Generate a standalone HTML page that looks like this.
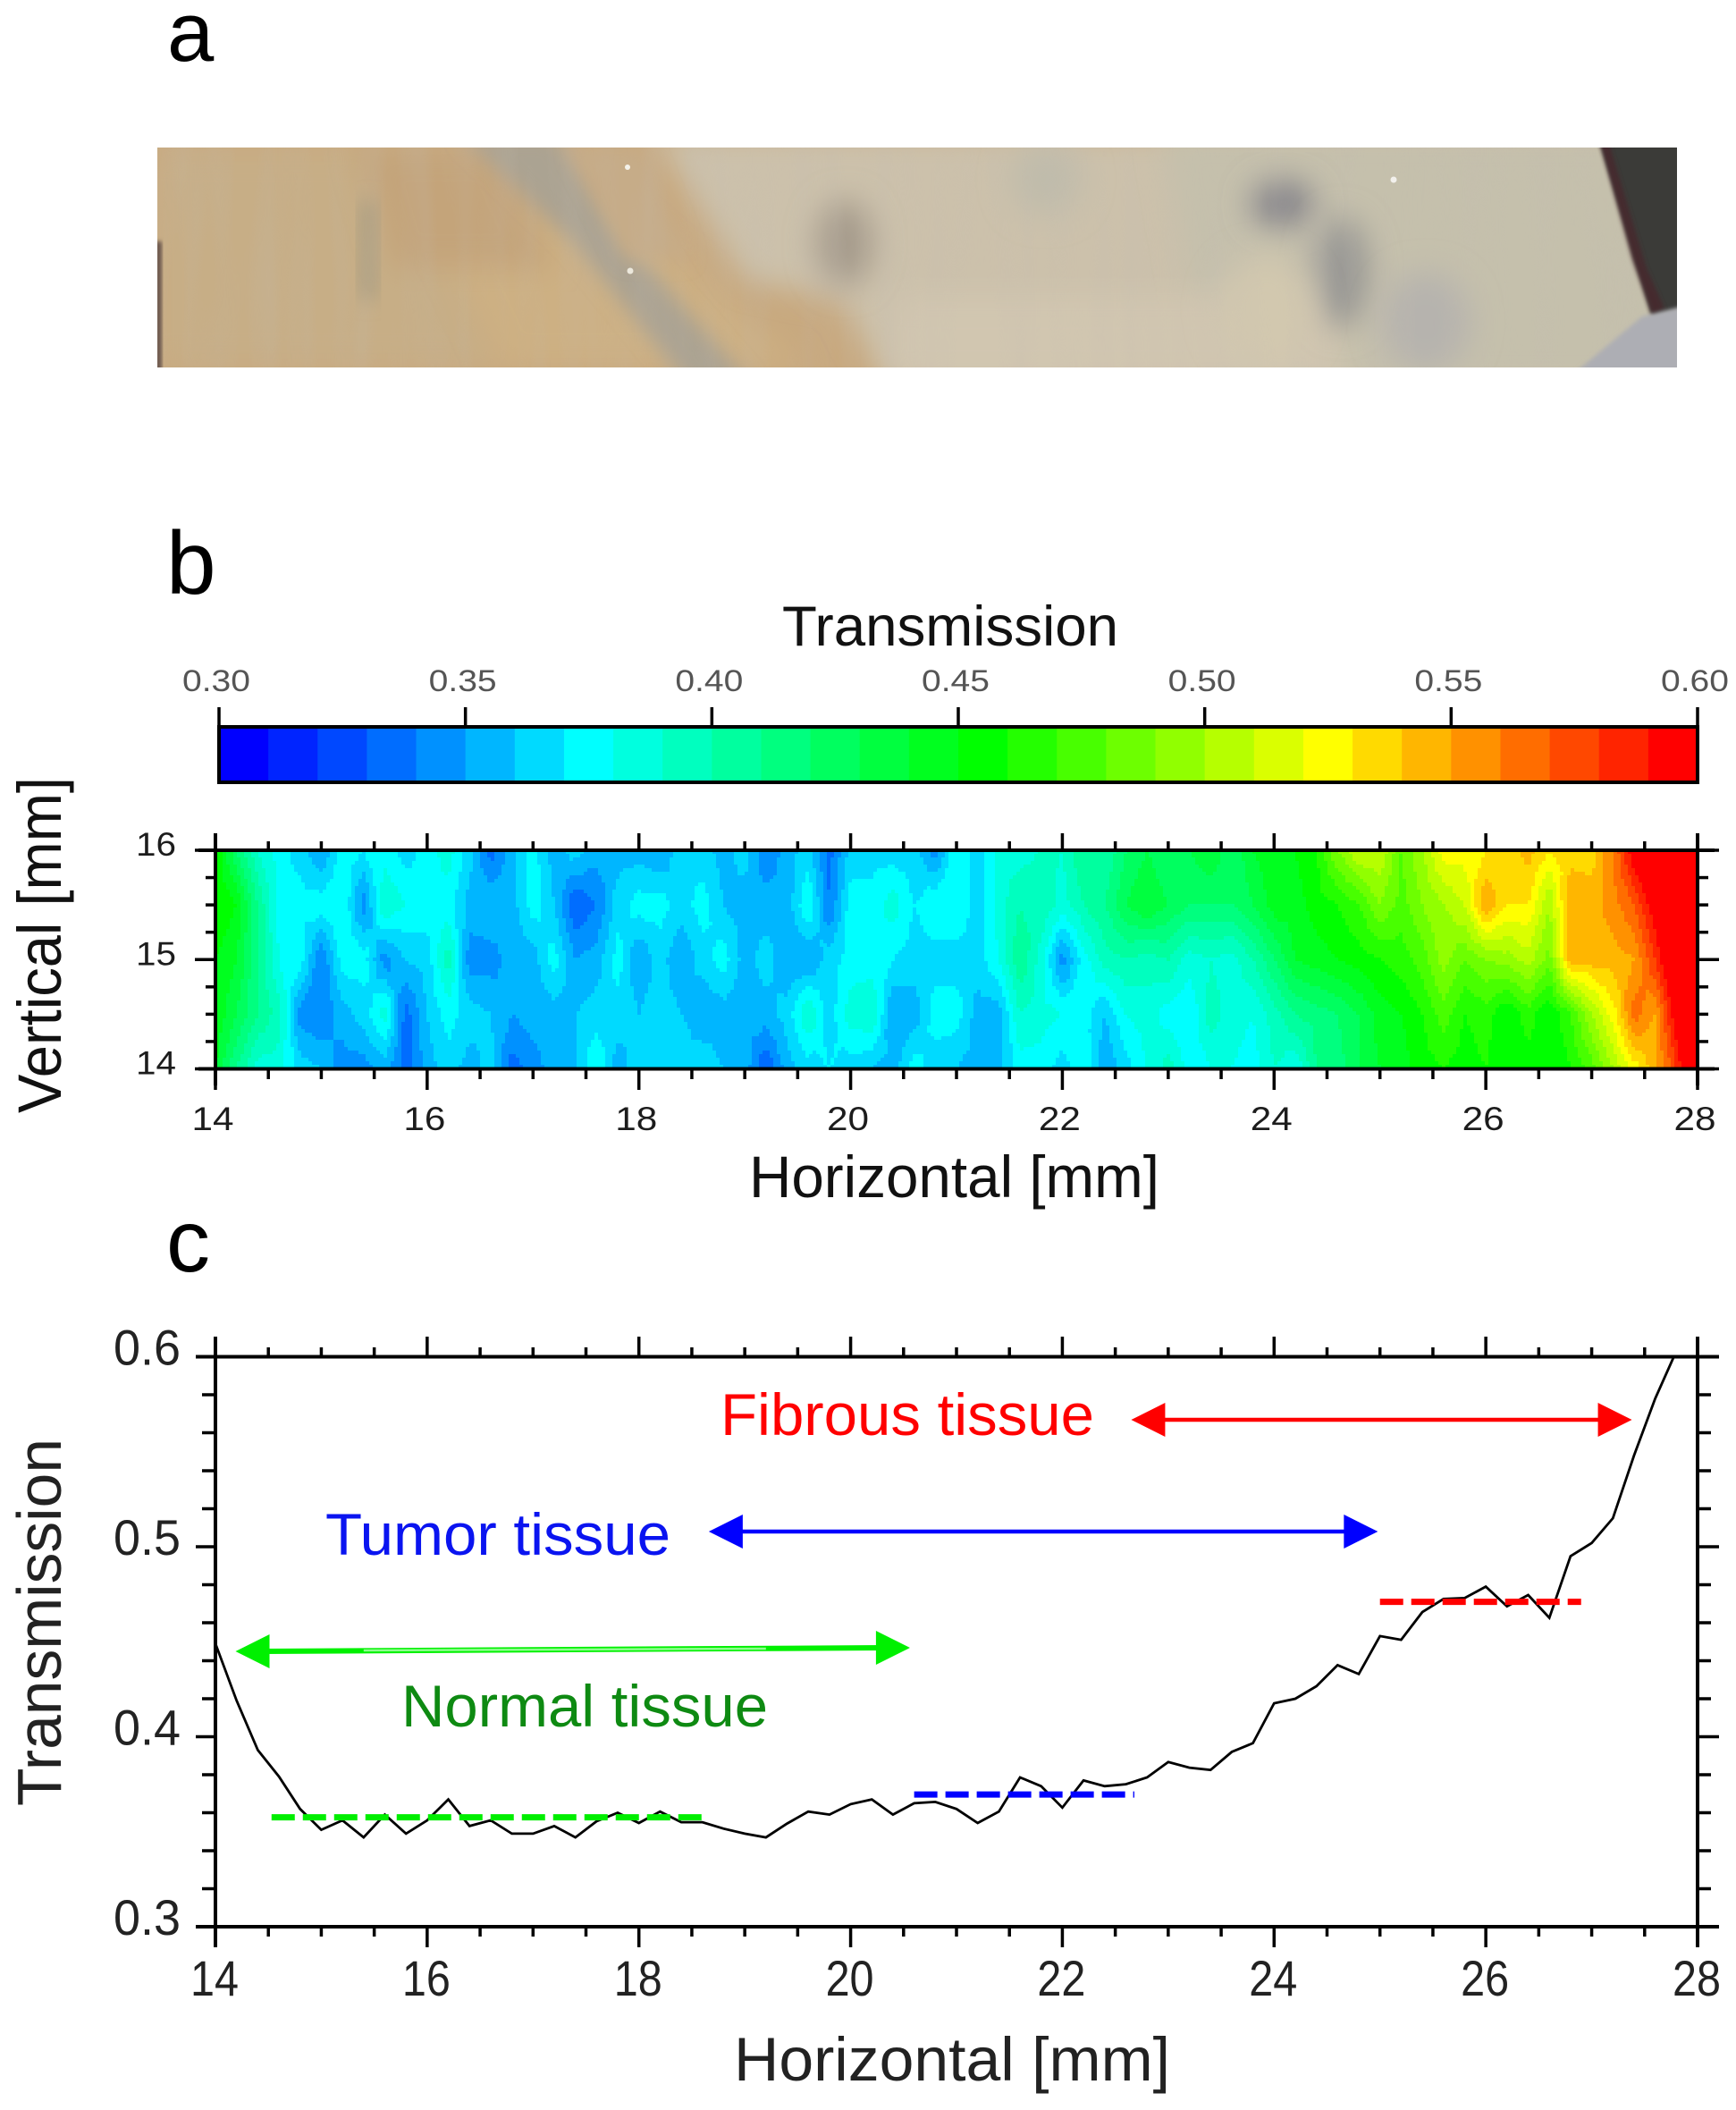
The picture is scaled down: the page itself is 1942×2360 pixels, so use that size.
<!DOCTYPE html>
<html lang="en">
<head>
<meta charset="utf-8">
<title>Tissue transmission figure</title>
<style>
html,body{margin:0;padding:0;background:#fff;}
svg{display:block;}
text{font-family:"Liberation Sans",Arial,sans-serif;}
</style>
</head>
<body>
<svg id="figure" xmlns="http://www.w3.org/2000/svg" width="1942" height="2360" viewBox="0 0 1942 2360">
  <defs>
    <clipPath id="photoClip"><rect x="176" y="165" width="1700" height="246"/></clipPath>
    <filter id="blurBig" x="-20%" y="-20%" width="140%" height="140%"><feGaussianBlur stdDeviation="16"/></filter>
    <filter id="blurMid" x="-40%" y="-40%" width="180%" height="180%"><feGaussianBlur stdDeviation="11"/></filter>
    <filter id="blurLow" x="-60%" y="-60%" width="220%" height="220%"><feGaussianBlur stdDeviation="17"/></filter>
    <filter id="blurSmall" x="-20%" y="-20%" width="140%" height="140%"><feGaussianBlur stdDeviation="2.5"/></filter>
    <filter id="streaks" x="0" y="0" width="100%" height="100%">
      <feTurbulence type="fractalNoise" baseFrequency="0.035 0.004" numOctaves="2" seed="7"/>
      <feColorMatrix type="matrix" values="0 0 0 0 0.55  0 0 0 0 0.5  0 0 0 0 0.45  1.6 0 0 0 -0.55"/>
    </filter>
    <clipPath id="heatClip"><rect x="241" y="951" width="1658" height="245"/></clipPath>
    <clipPath id="profileClip"><rect x="241" y="1517" width="1658" height="638"/></clipPath>
  </defs>

  <text x="187" y="68" font-size="94" fill="#000">a</text>
  <g clip-path="url(#photoClip)">
    <rect x="176" y="165" width="1700" height="246" fill="#c8a97f"/>
    <polygon filter="url(#blurBig)" fill="#c7ae86" points="176,165 500,165 560,411 176,411"/>
    <polygon filter="url(#blurBig)" fill="#cdb083" points="480,240 700,240 900,411 560,411"/>
    <polygon filter="url(#blurBig)" fill="#c4a47a" points="400,165 560,165 620,300 440,300"/>
    <polygon filter="url(#blurBig)" fill="#ccc1ab" points="731,150 1890,150 1890,430 991,430 940,335 833,313"/>
    <polygon filter="url(#blurBig)" fill="#c5c0ac" points="1300,150 1890,150 1890,430 1350,430"/>
    <polygon filter="url(#blurBig)" fill="#d1c6b0" points="1000,330 1500,330 1500,430 1000,430"/>
    <polygon filter="url(#blurMid)" fill="#aba392" points="515,150 620,150 700,270 840,430 770,430 640,270"/>
    <polygon filter="url(#blurMid)" fill="#c6ac88" points="640,165 720,165 770,290 700,290"/>
    <ellipse filter="url(#blurLow)" cx="945" cy="272" rx="32" ry="48" fill="#a69b8c"/>
    <ellipse filter="url(#blurLow)" cx="1435" cy="228" rx="36" ry="26" fill="#85848a"/>
    <ellipse filter="url(#blurLow)" cx="1500" cy="305" rx="32" ry="62" fill="#9a9995"/>
    <ellipse filter="url(#blurLow)" cx="1595" cy="360" rx="50" ry="55" fill="#b6b3ae"/>
    <ellipse filter="url(#blurLow)" cx="1415" cy="345" rx="55" ry="60" fill="#d2c8af"/>
    <ellipse filter="url(#blurLow)" cx="1170" cy="200" rx="40" ry="40" fill="#c0bcab"/>
    <rect filter="url(#blurMid)" x="404" y="225" width="16" height="110" fill="#a4987a"/>
    <rect x="176" y="165" width="1700" height="246" filter="url(#streaks)" opacity="0.22"/>
    <polygon filter="url(#blurSmall)" fill="#3a3a38" points="1790,160 1885,160 1885,346 1848,354 1830,290"/>
    <polygon filter="url(#blurSmall)" fill="#442a2e" points="1790,160 1800,160 1842,300 1862,345 1848,352 1826,290"/>
    <polygon filter="url(#blurSmall)" fill="#adaeb4" points="1758,420 1837,354 1885,342 1885,420"/>
    <rect filter="url(#blurSmall)" x="174" y="270" width="7" height="145" fill="#66534c"/>
    <circle cx="702" cy="187" r="3" fill="#f4f2ea"/>
    <circle cx="1559" cy="201" r="3.5" fill="#f2f0ec"/>
    <circle cx="705" cy="303" r="3.5" fill="#ece8dc"/>
  </g>

  <text x="186" y="664" font-size="100" fill="#000">b</text>
  <text x="875" y="722" font-size="63" textLength="376" lengthAdjust="spacingAndGlyphs" fill="#111">Transmission</text>
  <g id="colorbar"></g>
  <g id="heatmap" clip-path="url(#heatClip)" shape-rendering="crispEdges"></g>
  <g id="heatAxes"></g>
  <text x="838" y="1339" font-size="66" textLength="459" lengthAdjust="spacingAndGlyphs" fill="#111">Horizontal [mm]</text>
  <text transform="translate(68 1245) rotate(-90)" font-size="69" textLength="376" lengthAdjust="spacingAndGlyphs" fill="#111">Vertical [mm]</text>

  <text x="186" y="1422" font-size="98" fill="#000">c</text>
  <g id="profileAxes"></g>
  <g id="profileMarks" clip-path="url(#profileClip)"></g>
  <g id="annotations"></g>
  <text x="806" y="1605" font-size="66" textLength="418" lengthAdjust="spacingAndGlyphs" fill="#ff0000">Fibrous tissue</text>
  <text x="364" y="1739" font-size="66" textLength="386" lengthAdjust="spacingAndGlyphs" fill="#0a14f0">Tumor tissue</text>
  <text x="449" y="1931" font-size="66" textLength="410" lengthAdjust="spacingAndGlyphs" fill="#0e8a12">Normal tissue</text>
  <text x="821" y="2327" font-size="69" textLength="488" lengthAdjust="spacingAndGlyphs" fill="#222">Horizontal [mm]</text>
  <text transform="translate(68 2020) rotate(-90)" font-size="70" textLength="411" lengthAdjust="spacingAndGlyphs" fill="#222">Transmission</text>
</svg>

<script>
// ---- colour scale ----
const colorbarTickValues = [0.30, 0.35, 0.40, 0.45, 0.50, 0.55, 0.60];
const colorbarTickLabels = ['0.30', '0.35', '0.40', '0.45', '0.50', '0.55', '0.60'];
const levelColors = ['#0000ff','#0024ff','#0048ff','#006dff','#0091ff','#00b6ff','#00daff','#00ffff','#00ffdf','#00ffbf','#00ff9f','#00ff7f','#00ff5f','#00ff3f','#00ff1f','#00ff00','#24ff00','#48ff00','#6dff00','#91ff00','#b6ff00','#daff00','#ffff00','#ffda00','#ffb600','#ff9100','#ff6d00','#ff4800','#ff2400','#ff0000'];
const levelMin = 0.30;
const levelStep = 0.01;

// ---- heatmap data: one array per scan row, each column is 0.2 mm ----
const heatColumnStart = 14;
const heatColumnStep = 0.2;
const heatRowPositions = [16, 15.5, 15, 14.5, 14];
const heatRow160 = [.46,.42,.39,.375,.365,.35,.375,.37,.375,.365, .375,.385,.365,.335,.355,.375,.355,.365,.355,.355, .355,.35,.365,.365,.355,.365,.34,.355,.365,.335, .365,.365,.365,.365,.345,.38,.365,.385,.385,.39, .39,.41,.40,.42,.43,.42,.43,.44,.42,.44, .445,.45,.46,.49,.51,.51,.48,.50,.525,.525, .53,.53,.545,.53,.535,.535,.56,.60,.62,.66, .72];
const heatRow155 = [.46,.45,.41,.375,.375,.375,.38,.345,.39,.38, .375,.375,.355,.36,.355,.375,.36,.33,.34,.365, .375,.375,.365,.375,.36,.355,.355,.355,.38,.34, .375,.375,.385,.37,.38,.38,.365,.385,.40,.40, .385,.40,.41,.43,.44,.43,.42,.42,.42,.43, .445,.445,.455,.46,.47,.49,.475,.49,.50,.51, .55,.53,.53,.50,.55,.545,.555,.57,.60,.64, .70];
const heatRow150 = [.45,.44,.41,.38,.375,.34,.375,.375,.345,.36, .365,.395,.345,.345,.355,.355,.375,.35,.355,.375, .35,.365,.35,.365,.375,.355,.365,.35,.35,.365, .375,.375,.37,.365,.365,.365,.365,.38,.41,.385, .345,.375,.395,.40,.395,.40,.385,.39,.385,.40, .42,.44,.445,.45,.455,.46,.465,.475,.495,.48, .49,.495,.505,.485,.545,.545,.545,.55,.58,.62, .68];
const heatRow145 = [.45,.43,.41,.395,.345,.34,.355,.365,.385,.335, .36,.375,.365,.36,.35,.355,.355,.36,.365,.365, .36,.365,.36,.35,.355,.355,.355,.365,.39,.365, .385,.39,.35,.355,.375,.375,.355,.355,.39,.385, .38,.375,.36,.38,.385,.375,.37,.395,.385,.38, .395,.41,.415,.42,.43,.445,.45,.46,.475,.46, .465,.45,.465,.45,.47,.50,.525,.565,.55,.60, .66];
const heatRow140 = [.44,.41,.385,.385,.365,.36,.345,.345,.355,.335, .355,.365,.355,.365,.335,.345,.355,.36,.38,.355, .365,.365,.365,.37,.36,.355,.33,.355,.365,.37, .365,.36,.355,.375,.365,.36,.355,.355,.375,.375, .365,.38,.35,.365,.38,.395,.375,.38,.38,.375, .39,.38,.41,.415,.43,.44,.445,.455,.46,.455, .46,.45,.455,.45,.46,.475,.50,.525,.545,.58, .62];

// ---- axis ticks ----
const xMajorTicks = [14, 16, 18, 20, 22, 24, 26, 28];
const xTickLabels = ['14', '16', '18', '20', '22', '24', '26', '28'];
const xMinorTicks = [14.5, 15, 15.5, 16.5, 17, 17.5, 18.5, 19, 19.5, 20.5, 21, 21.5, 22.5, 23, 23.5, 24.5, 25, 25.5, 26.5, 27, 27.5];
const heatYMajorTicks = [14, 15, 16];
const heatYTickLabels = ['14', '15', '16'];
const heatYMinorTicks = [14.25, 14.5, 14.75, 15.25, 15.5, 15.75];
const profileYMajorTicks = [0.3, 0.4, 0.5, 0.6];
const profileYTickLabels = ['0.3', '0.4', '0.5', '0.6'];
const profileYMinorTicks = [0.32, 0.34, 0.36, 0.38, 0.42, 0.44, 0.46, 0.48, 0.52, 0.54, 0.56, 0.58];

// ---- profile line: transmission every 0.2 mm from 14 mm ----
const profileStart = 14;
const profileStep = 0.2;
const profileValues = [.449,.419,.393,.379,.362,.351,.356,.347,.359,.349, .356,.367,.353,.356,.349,.349,.353,.347,.3555,.36, .3546,.3606,.355,.355,.3516,.349,.347,.3543,.3606,.359, .3645,.367,.359,.365,.3657,.362,.3546,.3606,.3786,.374, .3627,.377,.374,.375,.3786,.3867,.3837,.3825,.392,.3966, .4176,.42,.4266,.4377,.433,.453,.451,.4656,.4725,.473, .479,.4686,.4746,.4626,.495,.502,.515,.548,.578,.603];

// ---- tissue mean levels and range arrows ----
const normalMean = [14.53, 18.65, 0.3576];
const tumorMean = [20.6, 22.68, 0.3696];
const fibrousMean = [25.0, 26.9, 0.471];
const normalRange = [14.19, 20.56];
const tumorRange = [18.66, 24.98];
const fibrousRange = [22.65, 27.38];

const SVGNS = 'http://www.w3.org/2000/svg';
function xAxis(mm) { return 241 + (mm - 14) * (1658 / 14); }
function heatY(mm) { return 1195.5 - (mm - 14) * (244.5 / 2); }
function profileY(v) { return 2155 - (v - 0.3) * (637.5 / 0.3); }
function colorbarX(v) { return 245 + (v - 0.3) * (1654 / 0.3); }
function levelColor(v) {
  let i = Math.floor((v - levelMin) / levelStep + 1e-6);
  if (i < 0) i = 0;
  if (i > levelColors.length - 1) i = levelColors.length - 1;
  return levelColors[i];
}
function make(tag, parent, attrs, txt) {
  const el = document.createElementNS(SVGNS, tag);
  for (const k in attrs) el.setAttribute(k, attrs[k]);
  if (txt !== undefined) el.textContent = txt;
  parent.appendChild(el);
  return el;
}
function tick(parent, x1, y1, x2, y2, width) {
  const el = make('line', parent, {x1: x1, y1: y1, x2: x2, y2: y2, stroke: '#000', 'stroke-width': width});
  
  
  return el;
}
function spine(parent, x1, y1, x2, y2, width) {
  const el = make('line', parent, {x1: x1, y1: y1, x2: x2, y2: y2, stroke: '#000', 'stroke-width': width});
  
  
  return el;
}
function tickLabel(parent, x, y, s, size, len, anchor, fill) {
  const el = make('text', parent, {x: x, y: y, 'font-size': size, 'text-anchor': anchor, textLength: len, lengthAdjust: 'spacingAndGlyphs', fill: fill}, s);
  
  
  return el;
}

// ---- colorbar ----
const cbGroup = document.getElementById('colorbar');
levelColors.forEach(function (c, i) {
  const v0 = levelMin + i * levelStep;
  const r = make('rect', cbGroup, {x: colorbarX(v0), y: 813, width: colorbarX(v0 + levelStep) - colorbarX(v0) + 0.6, height: 62, fill: c});
  
  
});
const cbFrame = make('rect', cbGroup, {x: 245, y: 813, width: 1654, height: 62, fill: 'none', stroke: '#000', 'stroke-width': 4});


colorbarTickValues.forEach(function (v, i) {
  tick(cbGroup, colorbarX(v), 791, colorbarX(v), 813, 3.5);
  tickLabel(cbGroup, colorbarX(v) - 3, 773, colorbarTickLabels[i], 34, 76, 'middle', '#555');
});

// ---- heatmap: each grid cell is split into four triangles around its mean,
// which gives the diamond-shaped contours of the original plot ----
const heatRows = [heatRow160, heatRow155, heatRow150, heatRow145, heatRow140];
function heatValue(mmX, mmY) {
  const fx = (mmX - heatColumnStart) / heatColumnStep;
  const cx = Math.min(Math.max(Math.floor(fx), 0), heatRows[0].length - 2);
  const tx = fx - cx;
  let r = 0;
  while (r < heatRowPositions.length - 2 && mmY < heatRowPositions[r + 1]) r++;
  const ty = (heatRowPositions[r] - mmY) / (heatRowPositions[r] - heatRowPositions[r + 1]);
  const a = heatRows[r][cx], b = heatRows[r][cx + 1], c = heatRows[r + 1][cx], d = heatRows[r + 1][cx + 1];
  const m = (a + b + c + d) / 4;
  const u = tx - 0.5, w = ty - 0.5;
  if (Math.abs(u) >= Math.abs(w)) {
    const e1 = u < 0 ? a : b, e2 = u < 0 ? c : d;
    const s = Math.abs(u) * 2;
    const along = s === 0 ? 0.5 : 0.5 + w / (2 * Math.abs(u));
    return m * (1 - s) + (e1 * (1 - along) + e2 * along) * s;
  }
  const e1 = w < 0 ? a : c, e2 = w < 0 ? b : d;
  const s = Math.abs(w) * 2;
  const along = 0.5 + u / (2 * Math.abs(w));
  return m * (1 - s) + (e1 * (1 - along) + e2 * along) * s;
}
const heatGroup = document.getElementById('heatmap');
const cellW = 4, cellH = 4;
for (let py = 951; py < 1196; py += cellH) {
  const mmY = 14 + (1195.5 - (py + cellH / 2)) / (244.5 / 2);
  let runStart = 241, runColor = null;
  for (let px = 241; px <= 1899 + cellW; px += cellW) {
    const mmX = 14 + (px + cellW / 2 - 241) / (1658 / 14);
    const c = px >= 1899 ? null : levelColor(heatValue(Math.min(mmX, 28), mmY));
    if (c !== runColor) {
      if (runColor !== null) {
        const cell = make('rect', heatGroup, {x: runStart, y: py, width: px - runStart, height: cellH, fill: runColor});
        
        
      }
      runStart = px;
      runColor = c;
    }
  }
}

// ---- heatmap axes ----
const heatAxes = document.getElementById('heatAxes');
spine(heatAxes, 222, 951, 1918, 951, 4);
spine(heatAxes, 222, 1195.5, 1918, 1195.5, 4);
spine(heatAxes, 241, 932, 241, 1214, 4);
spine(heatAxes, 1899, 932, 1899, 1214, 4);
xMajorTicks.forEach(function (v, i) {
  tick(heatAxes, xAxis(v), 932, xAxis(v), 951, 3.5);
  tick(heatAxes, xAxis(v), 1195, xAxis(v), 1219, 3.5);
  tickLabel(heatAxes, xAxis(v) - 3, 1264, xTickLabels[i], 37, 47, 'middle', '#1c1c1c');
});
xMinorTicks.forEach(function (v) {
  tick(heatAxes, xAxis(v), 941, xAxis(v), 951, 3.5);
  tick(heatAxes, xAxis(v), 1195, xAxis(v), 1207, 3.5);
});
heatYMajorTicks.forEach(function (v, i) {
  tick(heatAxes, 218, heatY(v), 241, heatY(v), 3.5);
  tick(heatAxes, 1899, heatY(v), 1923, heatY(v), 3.5);
  tickLabel(heatAxes, 197, heatY(v) + 6, heatYTickLabels[i], 37, 45, 'end', '#1c1c1c');
});
heatYMinorTicks.forEach(function (v) {
  tick(heatAxes, 230, heatY(v), 241, heatY(v), 3.5);
  tick(heatAxes, 1899, heatY(v), 1911, heatY(v), 3.5);
});

// ---- profile axes ----
const profileAxes = document.getElementById('profileAxes');
spine(profileAxes, 219, 1517.5, 1923, 1517.5, 4);
spine(profileAxes, 219, 2155, 1923, 2155, 4);
spine(profileAxes, 241, 1495, 241, 2178, 4);
spine(profileAxes, 1899, 1495, 1899, 2178, 4);
xMajorTicks.forEach(function (v, i) {
  tick(profileAxes, xAxis(v), 1495, xAxis(v), 1517, 3.5);
  tick(profileAxes, xAxis(v), 2155, xAxis(v), 2178, 3.5);
  tickLabel(profileAxes, xAxis(v) - 1, 2232, xTickLabels[i], 56, 54, 'middle', '#222');
});
xMinorTicks.forEach(function (v) {
  tick(profileAxes, xAxis(v), 1507, xAxis(v), 1517, 3.5);
  tick(profileAxes, xAxis(v), 2155, xAxis(v), 2166, 3.5);
});
profileYMajorTicks.forEach(function (v, i) {
  tick(profileAxes, 219, profileY(v), 241, profileY(v), 3.5);
  tick(profileAxes, 1899, profileY(v), 1923, profileY(v), 3.5);
  tickLabel(profileAxes, 202, profileY(v) + 9, profileYTickLabels[i], 56, 75, 'end', '#222');
});
profileYMinorTicks.forEach(function (v) {
  tick(profileAxes, 226, profileY(v), 241, profileY(v), 3.5);
  tick(profileAxes, 1899, profileY(v), 1914, profileY(v), 3.5);
});

// ---- profile marks ----
const profileMarks = document.getElementById('profileMarks');
const profilePoints = profileValues.map(function (v, i) {
  return xAxis(profileStart + i * profileStep).toFixed(1) + ',' + profileY(v).toFixed(1);
}).join(' ');
function meanLine(range, color, name) {
  const l = make('line', profileMarks, {x1: xAxis(range[0]), y1: profileY(range[2]), x2: xAxis(range[1]), y2: profileY(range[2]), stroke: color, 'stroke-width': 7, 'stroke-dasharray': '26 9'});
  
  
}
const profileLine = make('polyline', profileMarks, {points: profilePoints, fill: 'none', stroke: '#000', 'stroke-width': 2.8});


meanLine(normalMean, '#00ee00', 'normal-mean-line');
meanLine(tumorMean, '#0000ff', 'tumor-mean-line');
meanLine(fibrousMean, '#ff0000', 'fibrous-mean-line');

// ---- range arrows ----
const annotations = document.getElementById('annotations');
function rangeArrow(range, y1, y2, color, width, name) {
  const x1 = xAxis(range[0]), x2 = xAxis(range[1]);
  const g = make('g', annotations, {});
  
  
  make('line', g, {x1: x1 + 30, y1: y1, x2: x2 - 30, y2: y2, stroke: color, 'stroke-width': width});
  make('polygon', g, {points: x1 + ',' + y1 + ' ' + (x1 + 38) + ',' + (y1 - 19) + ' ' + (x1 + 38) + ',' + (y1 + 19), fill: color});
  make('polygon', g, {points: x2 + ',' + y2 + ' ' + (x2 - 38) + ',' + (y2 - 19) + ' ' + (x2 - 38) + ',' + (y2 + 19), fill: color});
}
rangeArrow(fibrousRange, 1588, 1588, '#ff0000', 4.5, 'fibrous-range-arrow');
rangeArrow(tumorRange, 1713, 1713, '#0000ff', 4.5, 'tumor-range-arrow');
rangeArrow(normalRange, 1847, 1843, '#00f000', 6, 'normal-range-arrow');
const normalHighlight = make('line', annotations, {x1: xAxis(15.4), y1: 1846, x2: xAxis(19.2), y2: 1844, stroke: '#8cff8c', 'stroke-width': 2.5});


</script>
</body>
</html>
